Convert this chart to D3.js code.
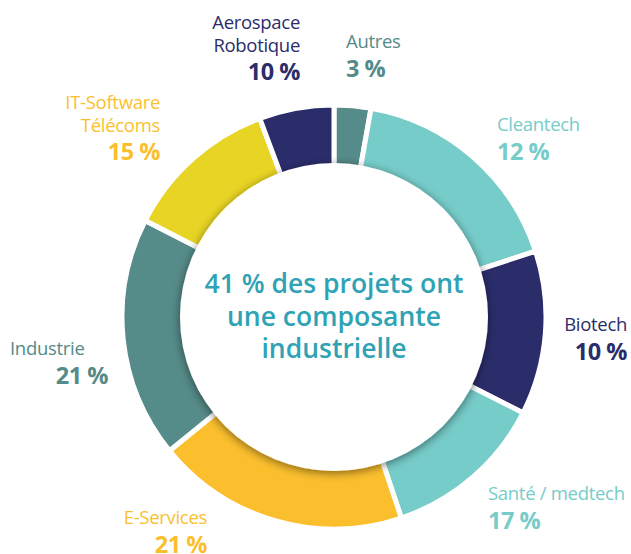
<!DOCTYPE html>
<html><head><meta charset="utf-8">
<script src="https://cdn.jsdelivr.net/npm/d3@7"></script>
<style>
html,body{margin:0;padding:0;background:#fff;}
svg{display:block;font-family:"Open Sans",sans-serif;}
</style></head>
<body>
<svg id="chart" width="631" height="554"></svg>
<script>
// Categories (clockwise from top)
const categories = ["Autres","Cleantech","Biotech","Santé / medtech","E-Services","Industrie","IT-Software Télécoms","Aerospace Robotique"];
// Printed label values (%)
const labelValues = [3, 12, 10, 17, 21, 21, 15, 10];
// Drawn arc shares (%)
const arcShares = [2.8, 17.2, 12.5, 12.4, 19.3, 18.4, 11.8, 5.7];
const centerLines = ["41 % des projets ont","une composante","industrielle"];

const fills = ["#558b88","#76ccc9","#2b2d6b","#76ccc9","#fbbf2e","#558b88","#e8d424","#2b2d6b"];
const textColors = ["#558b88","#76ccc9","#2b2d6b","#76ccc9","#fbbf2e","#558b88","#fbbf2e","#2b2d6b"];

// label layout: x, first baseline, anchor, name lines
const layout = {
  "Autres": {x:346, y:48, anchor:"start", lines:["Autres"]},
  "Cleantech": {x:497, y:131, anchor:"start", lines:["Cleantech"]},
  "Biotech": {x:627, y:331, anchor:"end", lines:["Biotech"]},
  "Santé / medtech": {x:488, y:500, anchor:"start", lines:["Santé / medtech"]},
  "E-Services": {x:207, y:524, anchor:"end", lines:["E-Services"]},
  "Industrie": {x:10, y:355, anchor:"start", lines:["Industrie"], pctX:108, pctAnchor:"end"},
  "IT-Software Télécoms": {x:160, y:109, anchor:"end", lines:["IT-Software","Télécoms"]},
  "Aerospace Robotique": {x:300, y:29, anchor:"end", lines:["Aerospace","Robotique"]}
};

const svg = d3.select("#chart");
const cx = 334, cy = 317, rOuter = 212, rInner = 154;

const defs = svg.append("defs");
const f = defs.append("filter").attr("id","sh").attr("x","-20%").attr("y","-20%").attr("width","140%").attr("height","140%");
f.append("feGaussianBlur").attr("in","SourceAlpha").attr("stdDeviation",5).attr("result","b");
f.append("feOffset").attr("in","b").attr("dx",0).attr("dy",2).attr("result","o");
f.append("feComponentTransfer").attr("in","o").attr("result","o2")
  .append("feFuncA").attr("type","linear").attr("slope",0.5);
const m = f.append("feMerge");
m.append("feMergeNode").attr("in","o2");
m.append("feMergeNode").attr("in","SourceGraphic");

const g = svg.append("g").attr("transform",`translate(${cx},${cy})`);
const pie = d3.pie().sort(null).value(d => d);
const arc = d3.arc().innerRadius(rInner - 6).outerRadius(rOuter);

g.selectAll("path.seg").data(pie(arcShares)).join("path")
  .attr("class","seg")
  .attr("d", arc)
  .attr("fill", (d,i) => fills[i])
  .attr("stroke","#fff").attr("stroke-width",5).attr("stroke-linejoin","miter");

g.append("circle").attr("r", rInner).attr("fill","#fff").attr("filter","url(#sh)");

// center text
const ct = g.append("text").attr("text-anchor","middle").attr("fill","#2fa3b5")
  .attr("font-size",26.5).attr("font-weight",600);
centerLines.forEach((t,i) => ct.append("tspan").attr("x",0).attr("y", -24 + i*32.5).text(t));

// labels
categories.forEach((c,i) => {
  const L = layout[c];
  const t = svg.append("text").attr("fill", textColors[i]).attr("font-size",18.5)
    .attr("text-anchor", L.anchor).attr("letter-spacing","-0.3");
  L.lines.forEach((ln,j) => t.append("tspan").attr("x",L.x).attr("y",L.y + j*22.5).text(ln));
  svg.append("text").attr("fill", textColors[i]).attr("font-size",23.5).attr("font-weight",700)
    .attr("letter-spacing","-0.5")
    .attr("text-anchor", L.pctAnchor || L.anchor)
    .attr("x", L.pctX || L.x)
    .attr("y", L.y + (L.lines.length-1)*22.5 + 28.5)
    .text(labelValues[i] + " %");
});
</script>
</body></html>
